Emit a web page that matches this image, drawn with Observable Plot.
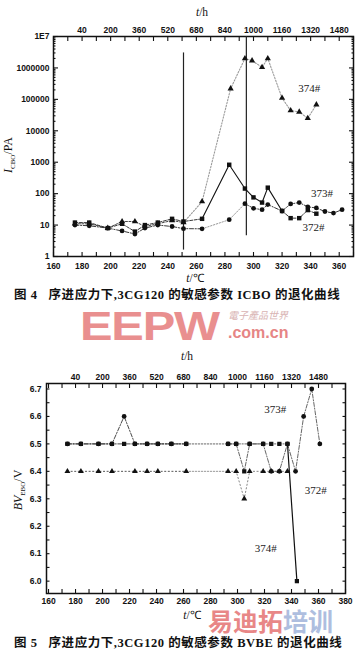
<!DOCTYPE html>
<html><head><meta charset="utf-8">
<script src="https://cdn.jsdelivr.net/npm/d3@7"></script>
<script src="https://cdn.jsdelivr.net/npm/@observablehq/plot@0.6"></script>
<style>
html,body{margin:0;padding:0;background:#fff}
body{width:361px;height:651px;overflow:hidden;position:relative;font-family:"Liberation Sans",Arial,sans-serif;color:#111}
.abs{position:absolute;white-space:nowrap}
.ctr{transform:translate(-50%,-50%)}
.ttl{font-family:"Liberation Serif","Times New Roman",serif;font-size:11.5px;line-height:11px}
.cap{font-family:"Liberation Serif","Noto Sans CJK SC",serif;font-size:12.5px;line-height:14px;font-weight:bold;white-space:pre;letter-spacing:0.55px}
.ylab{font-family:"Liberation Serif",serif;font-size:12px;line-height:13px;transform:translate(-50%,-50%) rotate(-90deg)}
sub{font-size:7px}
#c1{position:absolute;left:0;top:0}
#c2{position:absolute;left:0;top:340px}
.wm1{font-family:"Liberation Sans",Arial,sans-serif;font-weight:bold;color:#e67c7c;font-size:40px;line-height:45px;letter-spacing:-1px;opacity:0.85;transform:scaleX(1.22);transform-origin:0 0}
.wm2{font-family:"Liberation Sans",Arial,sans-serif;font-weight:bold;color:#e27070;font-size:16px;line-height:18px;opacity:0.85}
.wm3{font-family:"Liberation Sans","Noto Sans CJK SC",sans-serif;color:#d9b4b4;font-size:10px;line-height:12px;font-style:italic}
.wm4{font-family:"Liberation Sans","Noto Sans CJK SC",sans-serif;font-weight:bold;font-size:25px;line-height:28px;opacity:0.72}
</style></head>
<body>
<div id="c1"></div>
<div id="c2"></div>

<div class="abs ctr ttl" style="left:202px;top:12px"><i>t</i>/h</div>
<div class="abs ctr ttl" style="left:195px;top:278px"><i>t</i>/℃</div>
<div class="abs ylab" style="left:11px;top:155px"><i>I</i><sub>CBO</sub>/PA</div>
<div class="abs cap" style="left:14px;top:288px">图 4   序进应力下,3CG120 的敏感参数 ICBO 的退化曲线</div>

<div class="abs wm1" style="left:80px;top:304px">EEPW</div>
<div class="abs wm3" style="left:228px;top:310px">電子產品世界</div>
<div class="abs wm2" style="left:228px;top:324px">.com.cn</div>

<div class="abs ctr ttl" style="left:187px;top:356px"><i>t</i>/h</div>
<div class="abs ctr ttl" style="left:192px;top:615px"><i>t</i>/℃</div>
<div class="abs ylab" style="left:21px;top:490px"><i>BV</i><sub>EBO</sub>/V</div>
<div class="abs cap" style="left:14px;top:636px">图 5   序进应力下,3CG120 的敏感参数 BVBE 的退化曲线</div>

<div class="abs wm4" style="left:208px;top:607.5px"><span style="color:#e05a5a">易迪拓</span><span style="color:#8fa6d4">培训</span></div>

<script>
// ================= Figure 4 (ICBO, log scale) =================
const fig4BottomTicks = [160,180,200,220,240,260,280,300,320,340,360];
const fig4TopTickPos  = [180,200,220,240,260,280,300,320,340,360];
const fig4TopLabels   = ["40","200","360","520","680","840","1000","1160","1320","1480"];
const fig4YTicks      = [1,10,100,1000,10000,100000,1000000,10000000];
const fig4YLabels     = ["1","10","100","1000","10000","100000","1000000","1E7"];

// 372# (circles)
const fig4Temp372 = [175,185,198,208,217,224,233,243,251,264,283,294,300,306,310,320,326,332,338,344,350,356,362];
const fig4Val372  = [10,9.5,8,6.5,5.2,8,10,9,7.7,7.6,14.8,48,34,31,45,28,47,52,38,35,27,24,31];
// 373# (squares)
const fig4Temp373 = [175,185,198,208,217,224,233,243,251,264,283,294,300,306,310,320,326,332,338,344];
const fig4Val373  = [12,12,8,11,6.2,10,12,15.8,13,15.8,830,145,76,52,155,28,16.6,16.6,30,23];
// 374# (triangles)
const fig4Temp374 = [175,185,198,208,217,224,233,243,251,264,284,294,299,306,310,320,326,332,338,344];
const fig4Val374  = [11,11,8,13,13,9,11,14,12,56,220000,2000000,1700000,1050000,2000000,110000,44000,40000,25000,68000];

// vertical marker lines
const fig4VLineT    = [251,295];
const fig4VLineLow  = [1.6,4.6];
const fig4VLineHigh = [3000000,10000000];

// series labels
const fig4LabelText = ["374#","373#","372#"];
const fig4LabelT    = [339,348,342];
const fig4LabelV    = [220000,100,8.3];

// ================= Figure 5 (BVEBO, linear) =================
const fig5BottomTicks = [160,180,200,220,240,260,280,300,320,340,360,380];
const fig5TopTickPos  = [180,200,220,240,260,280,300,320,340,360];
const fig5TopLabels   = ["40","200","360","520","680","840","1000","1160","1320","1480"];
const fig5YTicks      = [6.0,6.1,6.2,6.3,6.4,6.5,6.6,6.7];

// 373# (circles)
const fig5Temp373 = [174,184,197,207,216,224,233,241,251,262,293,299,309,319,325,331,337,343,349,355,361];
const fig5Val373  = [6.5,6.5,6.5,6.5,6.6,6.5,6.5,6.5,6.5,6.5,6.5,6.5,6.5,6.5,6.4,6.4,6.5,6.4,6.6,6.7,6.5];
// 374# (squares)
const fig5Temp374 = [174,184,197,207,216,224,233,241,251,262,293,299,305,309,319,325,331,337,344];
const fig5Val374  = [6.5,6.5,6.5,6.5,6.5,6.5,6.5,6.5,6.5,6.5,6.5,6.5,6.4,6.5,6.5,6.5,6.5,6.5,6.0];
// 372# (triangles)
const fig5Temp372 = [174,184,197,207,224,233,241,262,293,299,305,309,319,325,331,337];
const fig5Val372  = [6.4,6.4,6.4,6.4,6.4,6.4,6.4,6.4,6.4,6.4,6.3,6.4,6.4,6.4,6.4,6.4];

const fig5LabelText = ["373#","372#","374#"];
const fig5LabelT    = [328,358,321];
const fig5LabelV    = [6.625,6.33,6.12];

// ---------- helpers ----------
const zip = (ts, vs) => ts.map((t, i) => ({t, v: vs[i]}));
const range = (a, b, s) => d3.range(a, b + s / 2, s);
const tickFont = {fontSize: 8.5, fontWeight: "bold", fill: "#111"};
const DASHDOT = "4,1.6,1.2,1.6";
const GREYDOT = "1.4,1.6";

function inwardTicksX(ticks, size) {
  return [
    Plot.axisX({anchor: "bottom", ticks, tickSize: -size, text: null, label: null, strokeWidth: 1.1}),
    Plot.axisX({anchor: "top", ticks, tickSize: -size, text: null, label: null, strokeWidth: 1.1})
  ];
}
function inwardTicksY(ticks, size) {
  return [
    Plot.axisY({anchor: "left", ticks, tickSize: -size, text: null, label: null, strokeWidth: 1.1}),
    Plot.axisY({anchor: "right", ticks, tickSize: -size, text: null, label: null, strokeWidth: 1.1})
  ];
}

// ---------- Figure 4 ----------
{
  const d372 = zip(fig4Temp372, fig4Val372);
  const d373 = zip(fig4Temp373, fig4Val373);
  const d374 = zip(fig4Temp374, fig4Val374);
  const vlines = fig4VLineT.map((t, i) => ({t, y1: fig4VLineLow[i], y2: fig4VLineHigh[i]}));
  const labels = fig4LabelText.map((s, i) => ({s, t: fig4LabelT[i], v: fig4LabelV[i]}));
  const topMap = new Map(fig4TopTickPos.map((p, i) => [p, fig4TopLabels[i]]));
  const yMap = new Map(fig4YTicks.map((p, i) => [p, fig4YLabels[i]]));
  const minorY = [];
  for (let e = 0; e < 7; e++) for (let m = 2; m <= 9; m++) minorY.push(m * 10 ** e);

  const chart = Plot.plot({
    width: 361, height: 282,
    marginLeft: 53, marginRight: 8, marginTop: 36, marginBottom: 26,
    x: {domain: [160, 370]},
    y: {type: "log", domain: [1, 1e7]},
    style: {fontFamily: "'Liberation Sans', Arial, sans-serif", background: "transparent"},
    marks: [
      ...inwardTicksX(range(160, 370, 10), 4),
      ...inwardTicksY(fig4YTicks, 5),
      ...inwardTicksY(minorY, 2.5),
      Plot.axisX({anchor: "bottom", ticks: fig4BottomTicks, tickSize: 0, tickPadding: 6.5, label: null, ...tickFont}),
      Plot.axisX({anchor: "top", ticks: fig4TopTickPos, tickSize: 0, tickPadding: 4, label: null, tickFormat: d => topMap.get(d), ...tickFont}),
      Plot.axisY({anchor: "left", ticks: fig4YTicks, tickSize: 0, tickPadding: 4, label: null, tickFormat: d => yMap.get(d), ...tickFont}),
      Plot.frame({stroke: "#111", strokeWidth: 1.5}),
      Plot.ruleX(vlines, {x: "t", y1: "y1", y2: "y2", stroke: "#222", strokeWidth: 1.2}),
      // 372#
      Plot.line(d372.filter(d => d.t <= 264), {x: "t", y: "v", stroke: "#222", strokeWidth: 0.9, strokeDasharray: DASHDOT}),
      Plot.line(d372.filter(d => d.t >= 264 && d.t <= 294), {x: "t", y: "v", stroke: "#999", strokeWidth: 1, strokeDasharray: GREYDOT}),
      Plot.line(d372.filter(d => d.t >= 294), {x: "t", y: "v", stroke: "#222", strokeWidth: 0.9, strokeDasharray: DASHDOT}),
      // 373#
      Plot.line(d373.filter(d => d.t <= 264), {x: "t", y: "v", stroke: "#222", strokeWidth: 0.9, strokeDasharray: "3,1.5"}),
      Plot.line(d373.filter(d => d.t >= 264 && d.t <= 320), {x: "t", y: "v", stroke: "#111", strokeWidth: 1.1}),
      Plot.line(d373.filter(d => d.t >= 320), {x: "t", y: "v", stroke: "#222", strokeWidth: 0.9, strokeDasharray: "3,1.5"}),
      // 374#
      Plot.line(d374.filter(d => d.t <= 251), {x: "t", y: "v", stroke: "#333", strokeWidth: 0.9, strokeDasharray: "2,1.5"}),
      Plot.line(d374.filter(d => d.t >= 251), {x: "t", y: "v", stroke: "#9a9a9a", strokeWidth: 1.1, strokeDasharray: GREYDOT}),
      Plot.dot(d372, {x: "t", y: "v", symbol: "circle", r: 2.4, fill: "#111"}),
      Plot.dot(d373, {x: "t", y: "v", symbol: "square", r: 2.5, fill: "#111"}),
      Plot.dot(d374, {x: "t", y: "v", symbol: "triangle", r: 2.3, fill: "#111"}),
      Plot.text(labels, {x: "t", y: "v", text: "s", fontFamily: "'Liberation Serif', serif", fontSize: 11, fill: "#222"})
    ]
  });
  document.getElementById("c1").appendChild(chart);
}

// ---------- Figure 5 ----------
{
  const d373 = zip(fig5Temp373, fig5Val373);
  const d374 = zip(fig5Temp374, fig5Val374);
  const d372 = zip(fig5Temp372, fig5Val372);
  const labels = fig5LabelText.map((s, i) => ({s, t: fig5LabelT[i], v: fig5LabelV[i]}));
  const topMap = new Map(fig5TopTickPos.map((p, i) => [p, fig5TopLabels[i]]));

  const chart = Plot.plot({
    width: 361, height: 278,
    marginLeft: 46, marginRight: 16, marginTop: 43, marginBottom: 25,
    x: {domain: [158.5, 380]},
    y: {domain: [5.955, 6.72]},
    style: {fontFamily: "'Liberation Sans', Arial, sans-serif", background: "transparent"},
    marks: [
      ...inwardTicksX(range(160, 380, 10), 4),
      ...inwardTicksY(range(6.0, 6.7, 0.05), 3.5),
      Plot.axisX({anchor: "bottom", ticks: fig5BottomTicks, tickSize: 0, tickPadding: 4, label: null, ...tickFont}),
      Plot.axisX({anchor: "top", ticks: fig5TopTickPos, tickSize: 0, tickPadding: 4, label: null, tickFormat: d => topMap.get(d), ...tickFont}),
      Plot.axisY({anchor: "left", ticks: fig5YTicks, tickSize: 0, tickPadding: 5, label: null, tickFormat: d3.format(".1f"), ...tickFont}),
      Plot.frame({stroke: "#111", strokeWidth: 1.5}),
      // 373#
      Plot.line(d373.filter(d => d.t <= 262), {x: "t", y: "v", stroke: "#333", strokeWidth: 0.9, strokeDasharray: DASHDOT}),
      Plot.line(d373.filter(d => d.t >= 262 && d.t <= 293), {x: "t", y: "v", stroke: "#999", strokeWidth: 1, strokeDasharray: GREYDOT}),
      Plot.line(d373.filter(d => d.t >= 293), {x: "t", y: "v", stroke: "#555", strokeWidth: 0.9, strokeDasharray: DASHDOT}),
      // 374#
      Plot.line(d374.filter(d => d.t <= 262), {x: "t", y: "v", stroke: "#333", strokeWidth: 0.9, strokeDasharray: DASHDOT}),
      Plot.line(d374.filter(d => d.t >= 262 && d.t <= 293), {x: "t", y: "v", stroke: "#999", strokeWidth: 1, strokeDasharray: GREYDOT}),
      Plot.line(d374.filter(d => d.t >= 293 && d.t <= 337), {x: "t", y: "v", stroke: "#555", strokeWidth: 0.9, strokeDasharray: DASHDOT}),
      Plot.line(d374.filter(d => d.t >= 337), {x: "t", y: "v", stroke: "#111", strokeWidth: 1.2}),
      // 372#
      Plot.line(d372.filter(d => d.t <= 262), {x: "t", y: "v", stroke: "#444", strokeWidth: 0.9, strokeDasharray: "1.2,2.4"}),
      Plot.line(d372.filter(d => d.t >= 262 && d.t <= 293), {x: "t", y: "v", stroke: "#999", strokeWidth: 1, strokeDasharray: GREYDOT}),
      Plot.line(d372.filter(d => d.t >= 293), {x: "t", y: "v", stroke: "#777", strokeWidth: 0.9, strokeDasharray: "1.2,2.4"}),
      Plot.dot(d374, {x: "t", y: "v", symbol: "square", r: 2.4, fill: "#111"}),
      Plot.dot(d373, {x: "t", y: "v", symbol: "circle", r: 2.4, fill: "#111"}),
      Plot.dot(d372, {x: "t", y: "v", symbol: "triangle", r: 2.2, fill: "#111"}),
      Plot.text(labels, {x: "t", y: "v", text: "s", fontFamily: "'Liberation Serif', serif", fontSize: 11, fill: "#222"})
    ]
  });
  document.getElementById("c2").appendChild(chart);
}
</script>
</body></html>
